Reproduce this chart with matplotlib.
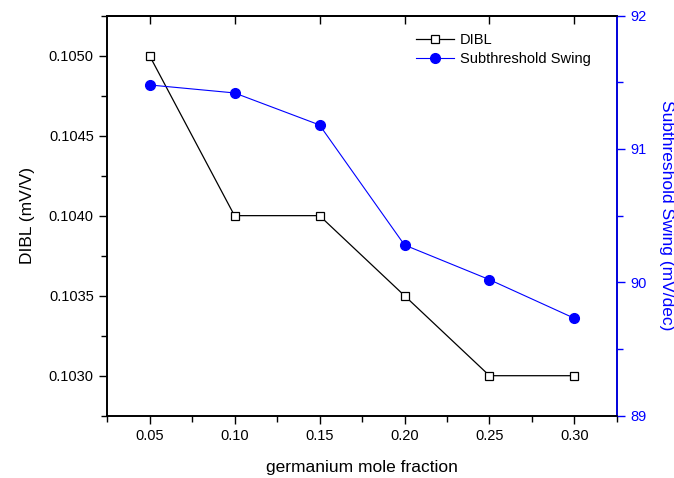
import matplotlib
matplotlib.use("Agg")
import matplotlib.pyplot as plt
from matplotlib.ticker import MultipleLocator

# ── Data ────────────────────────────────────────────────────────────────────
ge_fraction = [0.05, 0.10, 0.15, 0.20, 0.25, 0.30]
dibl = [0.1050, 0.1040, 0.1040, 0.1035, 0.1030, 0.1030]
swing = [91.48, 91.42, 91.18, 90.28, 90.02, 89.73]

BLUE = "#0000ff"
plt.rcParams["font.family"] = ["Liberation Sans", "DejaVu Sans"]

fig = plt.figure(figsize=(6.74, 4.78), dpi=100)
ax = fig.add_axes([0.1588, 0.1303, 0.7566, 0.8371])
ax2 = ax.twinx()

l1, = ax.plot(ge_fraction, dibl, color="black", lw=0.9, marker="s",
              markersize=5.5, markerfacecolor="white", markeredgecolor="black",
              markeredgewidth=0.9, label="DIBL")
l2, = ax2.plot(ge_fraction, swing, color=BLUE, lw=0.8, marker="o",
               markersize=7, markerfacecolor=BLUE, markeredgecolor=BLUE,
               label="Subthreshold Swing")

ax.set_xlim(0.025, 0.325)
ax.set_ylim(0.10275, 0.10525)
ax2.set_ylim(89, 92)

ax.xaxis.set_major_locator(MultipleLocator(0.05))
ax.xaxis.set_minor_locator(MultipleLocator(0.025))
ax.yaxis.set_major_locator(MultipleLocator(0.0005))
ax.yaxis.set_minor_locator(MultipleLocator(0.00025))
ax2.yaxis.set_major_locator(MultipleLocator(1))
ax2.yaxis.set_minor_locator(MultipleLocator(0.5))
ax.xaxis.set_major_formatter(plt.FormatStrFormatter("%.2f"))
ax.yaxis.set_major_formatter(plt.FormatStrFormatter("%.4f"))

ax.tick_params(axis="both", which="both", direction="out", labelsize=10.5,
               width=1.0)
ax.tick_params(which="major", length=6)
ax.tick_params(which="minor", length=4)
ax2.tick_params(axis="y", which="both", colors=BLUE, labelsize=10.5, width=1.0)
ax2.tick_params(which="major", length=6)
ax2.tick_params(which="minor", length=4)

# top axis: major ticks pointing inward
secx = ax.secondary_xaxis("top")
secx.xaxis.set_major_locator(MultipleLocator(0.05))
secx.tick_params(direction="in", length=6, width=1.0, labeltop=False)

for sp in ax.spines.values():
    sp.set_linewidth(1.2)
for sp in ax2.spines.values():
    sp.set_linewidth(1.2)
ax2.spines["right"].set_color(BLUE)
secx.spines["top"].set_linewidth(1.2)

ax.set_xlabel("germanium mole fraction", fontsize=12.5, labelpad=12)
ax.set_ylabel("DIBL (mV/V)", fontsize=12.5, labelpad=10)
ax2.set_ylabel("Subthreshold Swing (mV/dec)", fontsize=12.5, color=BLUE,
               rotation=270, labelpad=20)

ax2.legend(handles=[l1, l2], loc="upper left", bbox_to_anchor=(0.58, 0.99),
           frameon=False, fontsize=10.5, handlelength=2.6, handletextpad=0.4,
           labelspacing=0.35)

fig.savefig("out.png", dpi=100)
